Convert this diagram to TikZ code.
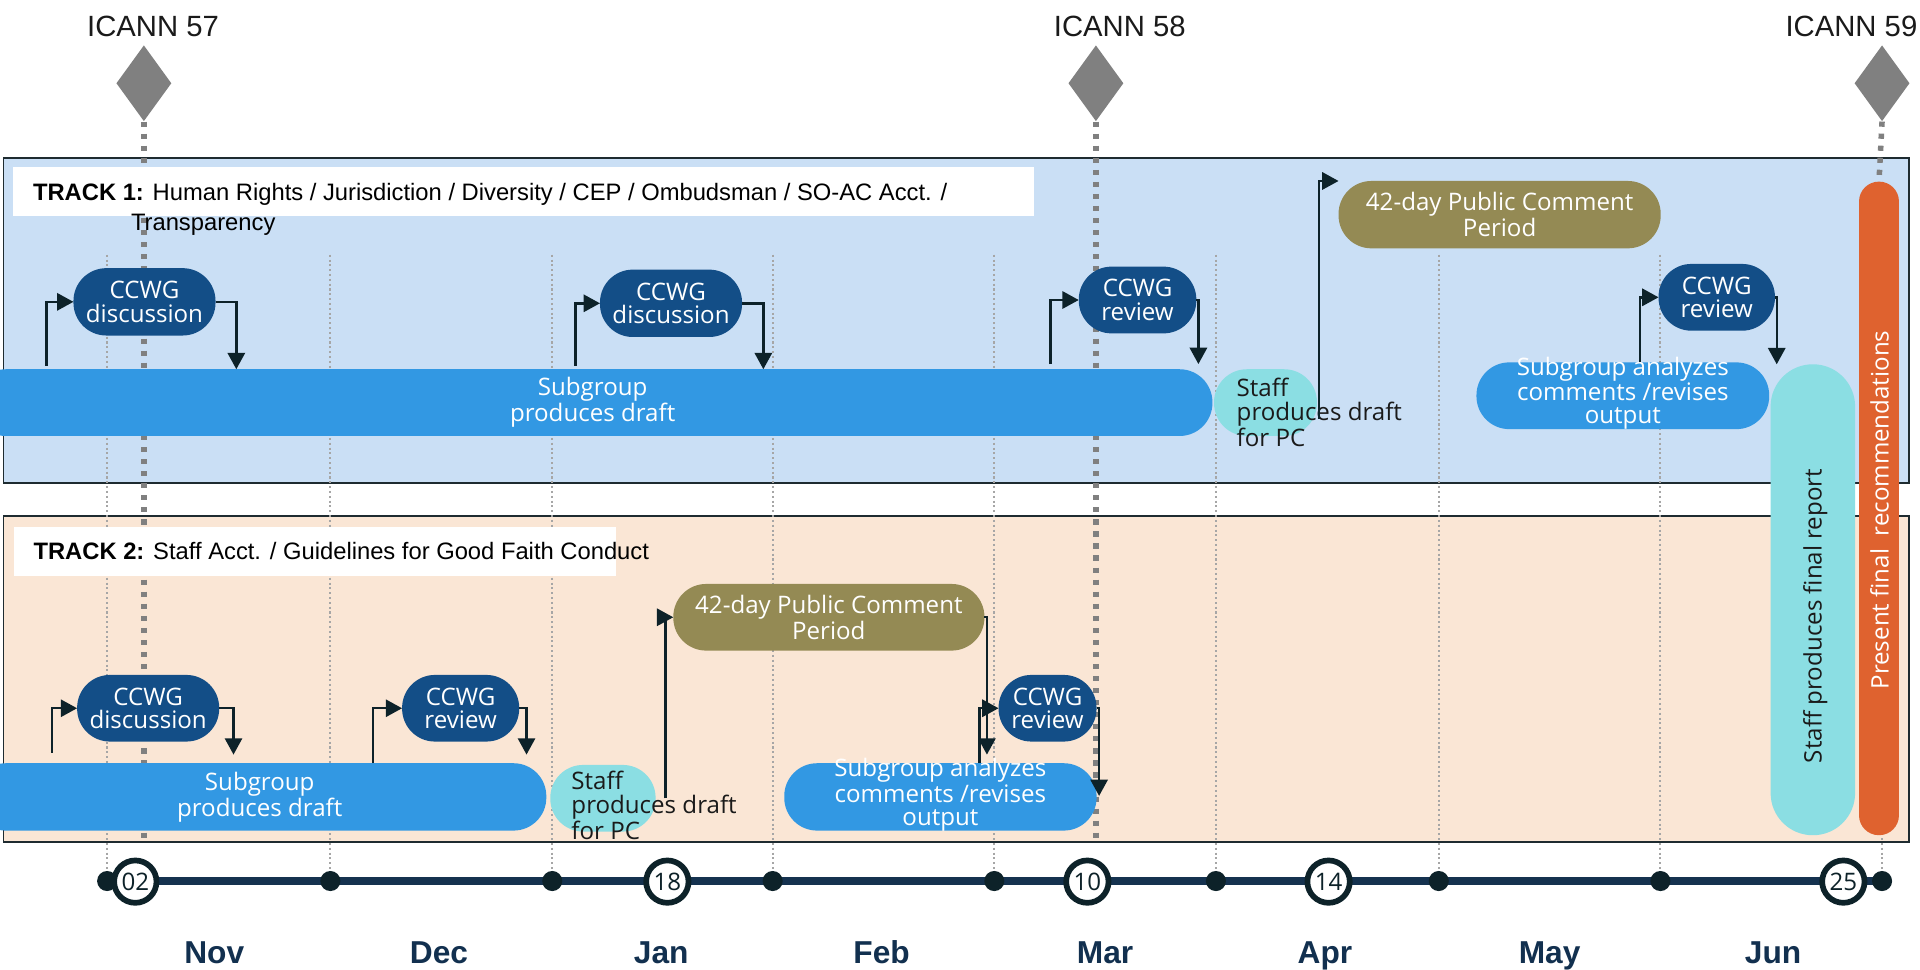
\documentclass[tikz,border=0pt]{standalone}
\usepackage{fontspec}
\setmainfont{Liberation Sans}
\newfontfamily\osans{Open Sans}
\usetikzlibrary{shapes.geometric,arrows.meta}
\definecolor{tonec}{HTML}{CADFF5}
\definecolor{ttwoc}{HTML}{FAE6D5}
\definecolor{boxline}{HTML}{1E2B30}
\definecolor{ccwgc}{HTML}{134E87}
\definecolor{subc}{HTML}{3298E3}
\definecolor{staffc}{HTML}{8BDEE3}
\definecolor{pcc}{HTML}{948A54}
\definecolor{orangec}{HTML}{DF622F}
\definecolor{arrc}{HTML}{0D2229}
\definecolor{dotc}{HTML}{A6A6A6}
\definecolor{icannc}{HTML}{808080}
\definecolor{tlc}{HTML}{15324F}
\definecolor{monthc}{HTML}{12304F}
\definecolor{txtc}{HTML}{1A1A1A}
\tikzset{
  pill/.style={rectangle, rounded corners=0.67cm, inner sep=0pt, outer sep=0pt, draw=none, align=center, text=white, font=\osans\fontsize{14}{13.6}\selectfont},
  ccwg/.style={pill, fill=ccwgc},
  subbar/.style={pill, fill=subc},
  staffpill/.style={pill, fill=staffc},
  pcpill/.style={pill, fill=pcc},
  nodetext/.style={inner sep=0pt, outer sep=0pt, font=\osans\fontsize{14}{13.6}\selectfont},
  trackbox/.style={rectangle, draw=boxline, line width=1pt, inner sep=0pt, outer sep=0pt},
  labelbox/.style={rectangle, fill=white, inner sep=0pt, outer sep=0pt},
  tracktext/.style={inner sep=0pt, outer sep=0pt, anchor=base west, font=\fontsize{13.8}{16}\selectfont, text=black},
  icann/.style={diamond, fill=icannc, draw=none, inner sep=0pt, minimum width=1.125cm, minimum height=1.55cm},
  icannlabel/.style={anchor=base, inner sep=0pt, font=\fontsize{17}{20}\selectfont, text=txtc},
  icannline/.style={draw=icannc, line width=3.2pt, dash pattern=on 3pt off 4pt},
  monthline/.style={draw=dotc, line width=1.2pt, dash pattern=on 1.2pt off 1.6pt},
  arr/.style={draw=arrc, line width=1.4pt, -{Triangle[length=9.5pt,width=10pt]}},
  tline/.style={draw=tlc, line width=4.3pt},
  tdot/.style={circle, fill=arrc, inner sep=0pt, minimum size=0.41cm},
  tcircle/.style={circle, draw=arrc, fill=white, line width=3.3pt, inner sep=0pt, minimum size=0.865cm, font=\osans\fontsize{14}{14}\selectfont, text=arrc},
  month/.style={anchor=base, inner sep=0pt, font=\bfseries\fontsize{18.4}{20}\selectfont, text=monthc},
}
\begin{document}
\begin{tikzpicture}[x=0.025cm, y=-0.025cm]
\useasboundingbox (0,0) rectangle (1568,791.4);
\fill[white] (0,0) rectangle (1568,791.4);

% track boxes
\node[trackbox, fill=tonec, minimum width=38.89cm, minimum height=6.6225cm] (track1) at (780.8,261.75) {};
\node[trackbox, fill=ttwoc, minimum width=38.89cm, minimum height=6.645cm] (track2) at (780.8,554.4) {};

% month guide lines
\coordinate (ytop) at (0,208);
\foreach \i/\x in {1/87.5,2/269.8,3/451,4/631,5/812,6/993,7/1175,8/1356,9/1537} {\coordinate (p\i) at (\x,719.5);}
\foreach \i in {1,...,9} {\draw[monthline] (p\i |- ytop) -- (p\i);}

% ICANN meetings
\node[icann] (dia57) at (117.5,68) {};
\node[icann] (dia58) at (895,68) {};
\node[icann] (dia59) at (1537,68) {};
\node[icannlabel] (lab57) at (125,29.4) {ICANN 57};
\node[icannlabel] (lab58) at (914.5,29.4) {ICANN 58};
\node[icannlabel] (lab59) at (1512,29.4) {ICANN 59};
\draw[icannline] (dia57.south) -- (dia57.south |- track2.south);
\draw[icannline] (dia58.south) -- (dia58.south |- track2.south);

% track labels
\node[labelbox, minimum width=20.825cm, minimum height=0.9825cm] (lbl1) at (427.5,156.35) {};
\node[tracktext] (lbl1t) at (27,163.4) {\textbf{TRACK 1:} Human Rights / Jurisdiction / Diversity / CEP / Ombudsman / SO-AC Acct. /};
\node[tracktext] (lbl1u) at (107,187.9) {Transparency};
\node[labelbox, minimum width=12.29cm, minimum height=0.995cm] (lbl2) at (257.55,450.5) {};
\node[tracktext] (lbl2t) at (27.4,457.3) {\textbf{TRACK 2:} Staff Acct. / Guidelines for Good Faith Conduct};

% track 1 nodes
\node[ccwg, minimum width=2.9cm, minimum height=1.375cm] (ccwg1) at (118,246.5) {CCWG\\discussion};
\node[ccwg, minimum width=2.9cm, minimum height=1.375cm] (ccwg2) at (548,247.7) {CCWG\\discussion};
\node[ccwg, minimum width=2.4cm, minimum height=1.3625cm] (rev1) at (929,245) {CCWG\\review};
\node[subbar, minimum width=25.3cm, minimum height=1.3625cm] (sub1) at (484,328.8) {Subgroup\\produces draft};
\node[staffpill, minimum width=2.1cm, minimum height=1.3625cm] (staff1) at (1033.5,328.8) {};
\node[nodetext, anchor=west, align=left, text=txtc] (staff1t) at (1010,336.7) {Staff\\produces draft\\for PC};
\node[pcpill, minimum width=6.575cm, minimum height=1.375cm] (pc1) at (1224.7,175.3) {42-day Public Comment\\Period};
\node[ccwg, minimum width=2.375cm, minimum height=1.3625cm] (rev2) at (1402,242.8) {CCWG\\review};
\node[subbar, minimum width=5.975cm, minimum height=1.3625cm] (sa1) at (1325.3,323.2) {};
\node[nodetext, align=center, text=white] (sa1t) at (1325.3,321) {Subgroup analyzes\\comments /revises\\output};
\node[pill, fill=staffc, rounded corners=0.86cm, minimum width=1.725cm, minimum height=9.6125cm] (final) at (1480.5,489.8) {};
\node[nodetext, rotate=90, text=txtc] (finalt) at (1482.5,503) {Staff produces final report};
\node[pill, fill=orangec, rounded corners=0.405cm, minimum width=0.815cm, minimum height=13.34cm] (present) at (1534.5,415.2) {};
\node[nodetext, rotate=90, text=white] (presentt) at (1535,416.5) {Present final\ \ recommendations};
\draw[icannline] (dia59.south) -- (present.north);

% track 2 nodes
\node[ccwg, minimum width=2.9cm, minimum height=1.36cm] (ccwg3) at (121,578.4) {CCWG\\discussion};
\node[ccwg, minimum width=2.39cm, minimum height=1.36cm] (rev3) at (376.2,578.4) {CCWG\\review};
\node[subbar, minimum width=11.7cm, minimum height=1.375cm] (sub2) at (212.1,650.8) {Subgroup\\produces draft};
\node[staffpill, minimum width=2.15cm, minimum height=1.36cm] (staff2) at (492.4,651.9) {};
\node[nodetext, anchor=west, align=left, text=txtc] (staff2t) at (466.7,657.6) {Staff\\produces draft\\for PC};
\node[pcpill, minimum width=6.35cm, minimum height=1.36cm] (pc2) at (676.9,504.1) {42-day Public Comment\\Period};
\node[subbar, minimum width=6.375cm, minimum height=1.375cm] (sa2) at (768,650.8) {};
\node[nodetext, align=center, text=white] (sa2t) at (768,649.2) {Subgroup analyzes\\comments /revises\\output};
\node[ccwg, minimum width=2.0cm, minimum height=1.36cm] (rev4) at (855.5,578.4) {CCWG\\review};

% arrows
\foreach \n/\x in {k1/38,k2/193,k3/470,k4/623.4,k5/858,k6/978.7,k8/1339.2,k9/1451,k11/42.6,k12/190.7,k13/304.5,k14/430,k16/806,k17/800} {\coordinate (\n) at (\x,0);}
\coordinate (e18) at (897.6,650);
\draw[arr, shorten <=2pt] (sub1.north -| k1) |- (ccwg1.west);
\draw[arr] (ccwg1.east) -| (sub1.north -| k2);
\draw[arr, shorten <=2pt] (sub1.north -| k3) |- (ccwg2.west);
\draw[arr] (ccwg2.east) -| (sub1.north -| k4);
\draw[arr, shorten <=3pt] (sub1.north -| k5) |- (rev1.west);
\draw[arr, shorten >=3pt] (rev1.east) -| (sub1.north -| k6);
\draw[arr] ([xshift=1.1pt,yshift=-9.5pt]staff1.east) |- (pc1.north west);
\draw[arr] (sa1.north -| k8) |- (rev2.west);
\draw[arr] (rev2.east) -| (final.north -| k9);
\draw[arr, shorten <=6pt] (sub2.north -| k11) |- (ccwg3.west);
\draw[arr, shorten >=5pt] (ccwg3.east) -| (sub2.north -| k12);
\draw[arr] (sub2.north -| k13) |- (rev3.west);
\draw[arr, shorten >=5pt] (rev3.east) -| (sub2.north -| k14);
\draw[arr] ([xshift=5.8pt]staff2.east) |- (pc2.west);
\draw[arr, shorten >=5pt] (pc2.east) -| (sa2.north -| k16);
\draw[arr] (sa2.north -| k17) |- (rev4.west);
\draw[arr] (rev4.east) -| (e18);

% timeline
\draw[tline] (p1) -- (p9);
\foreach \i in {1,...,9} {\node[tdot] (dot\i) at (p\i) {};}
\node[tcircle] (c02) at (110.5,720) {02};
\node[tcircle] (c18) at (545,720) {18};
\node[tcircle] (c10) at (888,720) {10};
\node[tcircle] (c14) at (1085,720) {14};
\node[tcircle] (c25) at (1505.4,720) {25};
\foreach \m/\x in {Nov/175,Dec/358.5,Jan/540,Feb/720,Mar/902.5,Apr/1082,May/1265.5,Jun/1448} {\node[month] (m\m) at (\x,786.5) {\m};}
\end{tikzpicture}
\end{document}
